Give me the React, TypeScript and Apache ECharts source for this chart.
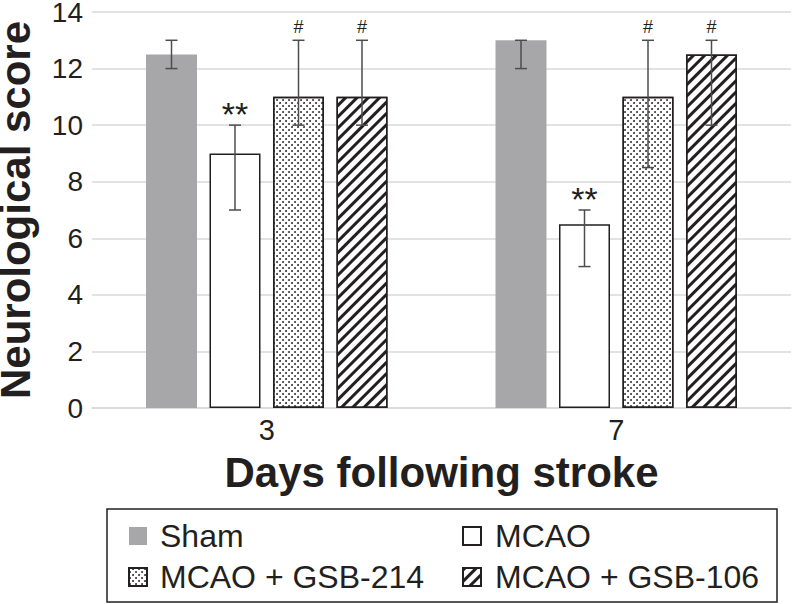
import React, { useEffect, useRef } from "react";
import * as echarts from "echarts";

const categories = ["3", "7"];
const seriesNames = ["Sham", "MCAO", "MCAO + GSB-214", "MCAO + GSB-106"];
const shamValues = [12.5, 13];
const mcaoValues = [9, 6.5];
const gsb214Values = [11, 11];
const gsb106Values = [11, 12.5];
const shamErrLow = [12, 12];
const shamErrHigh = [13, 13];
const mcaoErrLow = [7, 5];
const mcaoErrHigh = [10, 7];
const gsb214ErrLow = [10, 8.5];
const gsb214ErrHigh = [13, 13];
const gsb106ErrLow = [10, 10];
const gsb106ErrHigh = [13, 13];
const mcaoMarks = ["**", "**"];
const gsb214Marks = ["#", "#"];
const gsb106Marks = ["#", "#"];
const shamMarks = ["", ""];

const FONT = "'Liberation Sans', Arial, Helvetica, sans-serif";
const INK = "#231f20";
const CAT_GAP = 0.309;
const BAR_GAP = 0.245;
const N = 4;

function errSeries(si: number, lows: number[], highs: number[], marks: string[]) {
  return {
    type: "custom",
    z: 5,
    silent: true,
    data: lows.map((l, i) => [i, l, highs[i]]),
    encode: { x: 0, y: [1, 2] },
    renderItem: (params: any, api: any) => {
      const cat = api.value(0);
      const lo = api.coord([cat, api.value(1)]);
      const hi = api.coord([cat, api.value(2)]);
      const band = api.size([1, 0])[0];
      const bw = (band * (1 - CAT_GAP)) / (N + (N - 1) * BAR_GAP);
      const groupW = N * bw + (N - 1) * bw * BAR_GAP;
      const x = lo[0] - groupW / 2 + bw / 2 + si * bw * (1 + BAR_GAP);
      const cap = 6;
      const st = { stroke: "#4d4d4d", lineWidth: 1.5 };
      const mark = marks[params.dataIndex];
      const children: any[] = [
        { type: "line", shape: { x1: x, y1: lo[1], x2: x, y2: hi[1] }, style: st },
        { type: "line", shape: { x1: x - cap, y1: lo[1], x2: x + cap, y2: lo[1] }, style: st },
        { type: "line", shape: { x1: x - cap, y1: hi[1], x2: x + cap, y2: hi[1] }, style: st },
      ];
      if (mark) {
        const isStar = mark.indexOf("*") >= 0;
        children.push({
          type: "text",
          style: {
            text: mark,
            x: x,
            y: isStar ? hi[1] + 6 : hi[1] - 4,
            align: "center",
            verticalAlign: "bottom",
            fill: INK,
            font: (isStar ? "34px " : "18px ") + FONT,
          },
        });
      }
      return { type: "group", children };
    },
  };
}

export default function App() {
  const ref = useRef<HTMLDivElement>(null);
  useEffect(() => {
    if (!ref.current) return;
    const chart = echarts.init(ref.current, undefined, { renderer: "svg" });
    const barBase = {
      type: "bar",
      barGap: BAR_GAP * 100 + "%",
      barCategoryGap: CAT_GAP * 100 + "%",
    };
    const outlined = { color: "#ffffff", borderColor: INK, borderWidth: 1.5 };
    const legendCommon = {
      orient: "vertical",
      top: 515,
      icon: "rect",
      itemWidth: 18,
      itemHeight: 18,
      itemGap: 9,
    };
    chart.setOption({
      animation: false,
      backgroundColor: "#ffffff",
      textStyle: { fontFamily: FONT },
      grid: {
        left: 92,
        right: 1,
        top: 12,
        bottom: 196,
        containLabel: false,
        outerBoundsMode: "none",
      },
      legend: [
        {
          ...legendCommon,
          data: [seriesNames[0], seriesNames[2]],
          left: 123,
          textStyle: { fontSize: 32, color: INK, fontFamily: FONT, padding: [0, 0, 0, 8] },
        },
        {
          ...legendCommon,
          data: [seriesNames[1], seriesNames[3]],
          left: 457,
          textStyle: { fontSize: 32, color: INK, fontFamily: FONT, padding: [0, 0, 0, 9] },
        },
      ],
      graphic: [
        {
          type: "rect",
          shape: { x: 107, y: 509, width: 670, height: 93 },
          style: { fill: "none", stroke: INK, lineWidth: 1.5 },
        },
      ],
      xAxis: {
        type: "category",
        data: categories,
        axisTick: { show: false },
        axisLine: { show: true, lineStyle: { color: "#d9d9d9", width: 1.5 } },
        axisLabel: { fontSize: 29, color: INK, margin: 7, fontFamily: FONT },
        name: "Days following stroke",
        nameLocation: "middle",
        nameGap: 43,
        nameTextStyle: { fontSize: 42, fontWeight: "bold", color: INK, fontFamily: FONT },
      },
      yAxis: {
        type: "value",
        min: 0,
        max: 14,
        interval: 2,
        axisLine: { show: false },
        axisTick: { show: false },
        splitLine: { lineStyle: { color: "#d9d9d9", width: 1.5 } },
        axisLabel: { fontSize: 28, color: INK, margin: 9, fontFamily: FONT },
        name: "Neurological score",
        nameLocation: "middle",
        nameGap: 62,
        nameTextStyle: {
          fontSize: 42,
          lineHeight: 30,
          fontWeight: "bold",
          color: INK,
          fontFamily: FONT,
        },
      },
      series: [
        {
          ...barBase,
          name: seriesNames[0],
          data: shamValues,
          itemStyle: { color: "#a7a7a9" },
        },
        {
          ...barBase,
          name: seriesNames[1],
          data: mcaoValues,
          itemStyle: outlined,
        },
        {
          ...barBase,
          name: seriesNames[2],
          data: gsb214Values,
          itemStyle: {
            ...outlined,
            decal: {
              symbol: "circle",
              symbolSize: 0.9,
              color: INK,
              dashArrayX: [[1.5, 3.5], [0, 2.5, 1.5, 1]],
              dashArrayY: [1.5, 1],
              rotation: 0,
            },
          },
        },
        {
          ...barBase,
          name: seriesNames[3],
          data: gsb106Values,
          itemStyle: {
            ...outlined,
            decal: {
              symbol: "rect",
              symbolSize: 1,
              color: INK,
              dashArrayX: [1, 0],
              dashArrayY: [3, 5],
              rotation: -Math.PI / 4,
            },
          },
        },
        errSeries(0, shamErrLow, shamErrHigh, shamMarks),
        errSeries(1, mcaoErrLow, mcaoErrHigh, mcaoMarks),
        errSeries(2, gsb214ErrLow, gsb214ErrHigh, gsb214Marks),
        errSeries(3, gsb106ErrLow, gsb106ErrHigh, gsb106Marks),
      ],
    });
    return () => chart.dispose();
  }, []);
  return (
    <div
      ref={ref}
      style={{ position: "fixed", left: 0, top: 0, width: 792, height: 604 }}
    />
  );
}
